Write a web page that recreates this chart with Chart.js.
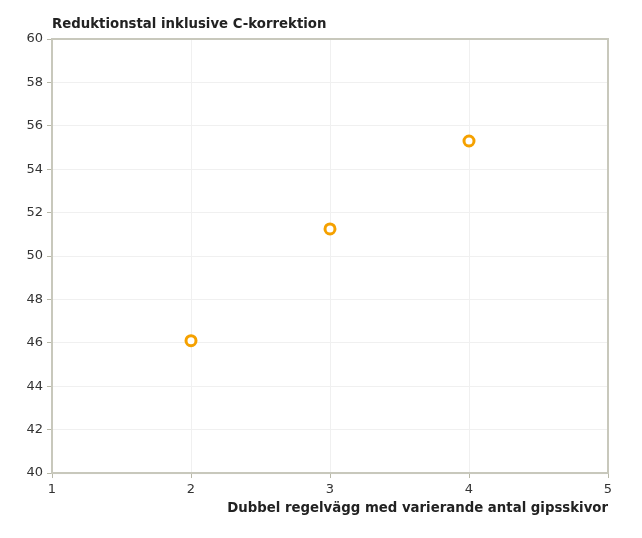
<!DOCTYPE html>
<html>
<head>
<meta charset="utf-8">
<script src="https://cdn.jsdelivr.net/npm/chart.js@4/dist/chart.umd.min.js"></script>
<style>
  html, body { margin: 0; padding: 0; background: #fff; }
  #wrap { width: 642px; height: 538px; }
</style>
</head>
<body>
<div id="wrap"><canvas id="chart" width="642" height="538"></canvas></div>
<script>
const xValues = [2, 3, 4];
const yValues = [46.1, 51.25, 55.3];
const yLabel = 'Reduktionstal inklusive C-korrektion';
const xLabel = 'Dubbel regelvägg med varierande antal gipsskivor';

const font = "'DejaVu Sans', Verdana, sans-serif";

// frame around the plot + y axis caption written horizontally above it
const frame = {
    id: 'frame',
    afterDraw(chart) {
        const c = chart.ctx;
        const a = chart.chartArea;
        c.save();
        c.strokeStyle = '#c8c8bc';
        c.lineWidth = 2;
        c.strokeRect(a.left, a.top, a.right - a.left, a.bottom - a.top);
        c.font = 'bold 13.3px ' + font;
        c.fillStyle = '#222';
        c.textAlign = 'left';
        c.textBaseline = 'middle';
        c.fillText(yLabel, a.left, a.top - 14);
        c.restore();
    }
};

const ctx = document.getElementById('chart').getContext('2d');
new Chart(ctx, {
    type: 'scatter',
    data: {
        datasets: [{
            data: xValues.map((x, i) => ({ x: x, y: yValues[i] })),
            pointRadius: 5,
            pointHoverRadius: 5,
            pointBorderWidth: 3,
            pointBorderColor: '#f5a100',
            pointBackgroundColor: '#ffffff'
        }]
    },
    options: {
        responsive: false,
        animation: false,
        layout: { padding: { top: 39, right: 34, left: 0, bottom: 21 } },
        plugins: { legend: { display: false }, tooltip: { enabled: false } },
        scales: {
            x: {
                min: 1, max: 5,
                ticks: { stepSize: 1, color: '#333', font: { family: font, size: 13, lineHeight: 1 }, padding: 5 },
                grid: { color: '#f0f0f0', tickColor: '#b8b8a8', tickLength: 5 },
                border: { color: '#c8c8bc', width: 2 },
                title: {
                    display: true, text: xLabel, align: 'end', color: '#222',
                    font: { family: font, size: 13.3, weight: 'bold' }, padding: { top: 0, bottom: 0 }
                }
            },
            y: {
                min: 40, max: 60,
                ticks: { stepSize: 2, color: '#333', font: { family: font, size: 13 }, padding: 4 },
                grid: { color: '#f0f0f0', tickColor: '#b8b8a8', tickLength: 5 },
                border: { color: '#c8c8bc', width: 2 },
                afterFit(scale) { scale.width = 52; }
            }
        }
    },
    plugins: [frame]
});
</script>
</body>
</html>
